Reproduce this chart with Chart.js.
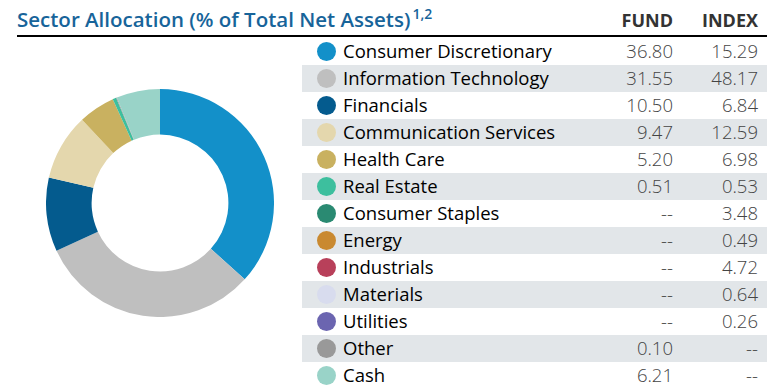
<!DOCTYPE html>
<html>
<head>
<meta charset="utf-8">
<script src="https://cdn.jsdelivr.net/npm/chart.js@4/dist/chart.umd.min.js"></script>
<style>
  html, body { margin: 0; padding: 0; background: #fff; }
  body { width: 777px; height: 386px; position: relative; overflow: hidden; font-family: "Open Sans", sans-serif; }
  #title { position: absolute; left: 17px; top: 5px; font-size: 20.5px; font-weight: 600; color: #17649a; white-space: nowrap; }
  #title sup { font-size: 14px; vertical-align: 0; position: relative; top: -8px; margin-left: 2px; }
  #rule { position: absolute; left: 17px; top: 35px; width: 750px; height: 2px; background: #000; }
  .hdr { position: absolute; top: 8px; font-size: 18px; font-weight: 700; color: #333; text-align: right; }
  #wrap { position: absolute; left: 46px; top: 89px; width: 228px; height: 228px; }
  #rows { position: absolute; left: 302px; top: 38px; width: 465px; }
  .row { position: relative; height: 27px; }
  .row.alt { background: #e2e6e9; }
  .dot { position: absolute; left: 15px; top: 4px; width: 19px; height: 19px; border-radius: 50%; }
  .lbl { position: absolute; left: 41px; top: 0px; font-size: 18.5px; color: #000; white-space: nowrap; }
  .val { position: absolute; top: 0px; font-size: 18.5px; font-weight: 300; color: #444; text-align: right; width: 80px; }
</style>
</head>
<body>
<div id="title">Sector Allocation (% of Total Net Assets)<sup>1,2</sup></div>
<div class="hdr" style="left:593px;width:80px;">FUND</div>
<div class="hdr" style="left:678px;width:80px;">INDEX</div>
<div id="rule"></div>
<div id="wrap"><canvas id="donut" width="228" height="228"></canvas></div>
<div id="rows"></div>
<script>
const sectors = ["Consumer Discretionary", "Information Technology", "Financials", "Communication Services",
  "Health Care", "Real Estate", "Consumer Staples", "Energy", "Industrials", "Materials", "Utilities", "Other", "Cash"];
const fundValues = [36.80, 31.55, 10.50, 9.47, 5.20, 0.51, null, null, null, null, null, 0.10, 6.21];
const indexValues = [15.29, 48.17, 6.84, 12.59, 6.98, 0.53, 3.48, 0.49, 4.72, 0.64, 0.26, null, null];
const sectorColors = ["#1390c9", "#bfbfbf", "#045b8e", "#e4d7ad", "#c9b160", "#3dbf9e", "#2a8a72",
  "#c98930", "#b8405a", "#d8dcee", "#6b65b0", "#999999", "#99d3c8"];

function fmt(v) {
  return v === null ? "--" : v.toFixed(2);
}

// legend / value table
const rows = document.getElementById("rows");
sectors.forEach(function (name, i) {
  const r = document.createElement("div");
  r.className = "row" + (i % 2 === 1 ? " alt" : "");
  r.innerHTML = '<span class="dot" style="background:' + sectorColors[i] + '"></span>' +
    '<span class="lbl">' + name + '</span>' +
    '<span class="val" style="left:291px">' + fmt(fundValues[i]) + '</span>' +
    '<span class="val" style="left:376px">' + fmt(indexValues[i]) + '</span>';
  rows.appendChild(r);
});

new Chart("donut", {
  type: "doughnut",
  data: {
    labels: sectors,
    datasets: [{
      data: fundValues.map(function (v) { return v === null ? 0 : v; }),
      backgroundColor: sectorColors,
      borderWidth: 0
    }]
  },
  options: {
    responsive: false,
    animation: false,
    cutout: "60%",
    layout: { padding: 0 },
    plugins: {
      legend: { display: false },
      tooltip: { enabled: false }
    }
  }
});
</script>
</body>
</html>
